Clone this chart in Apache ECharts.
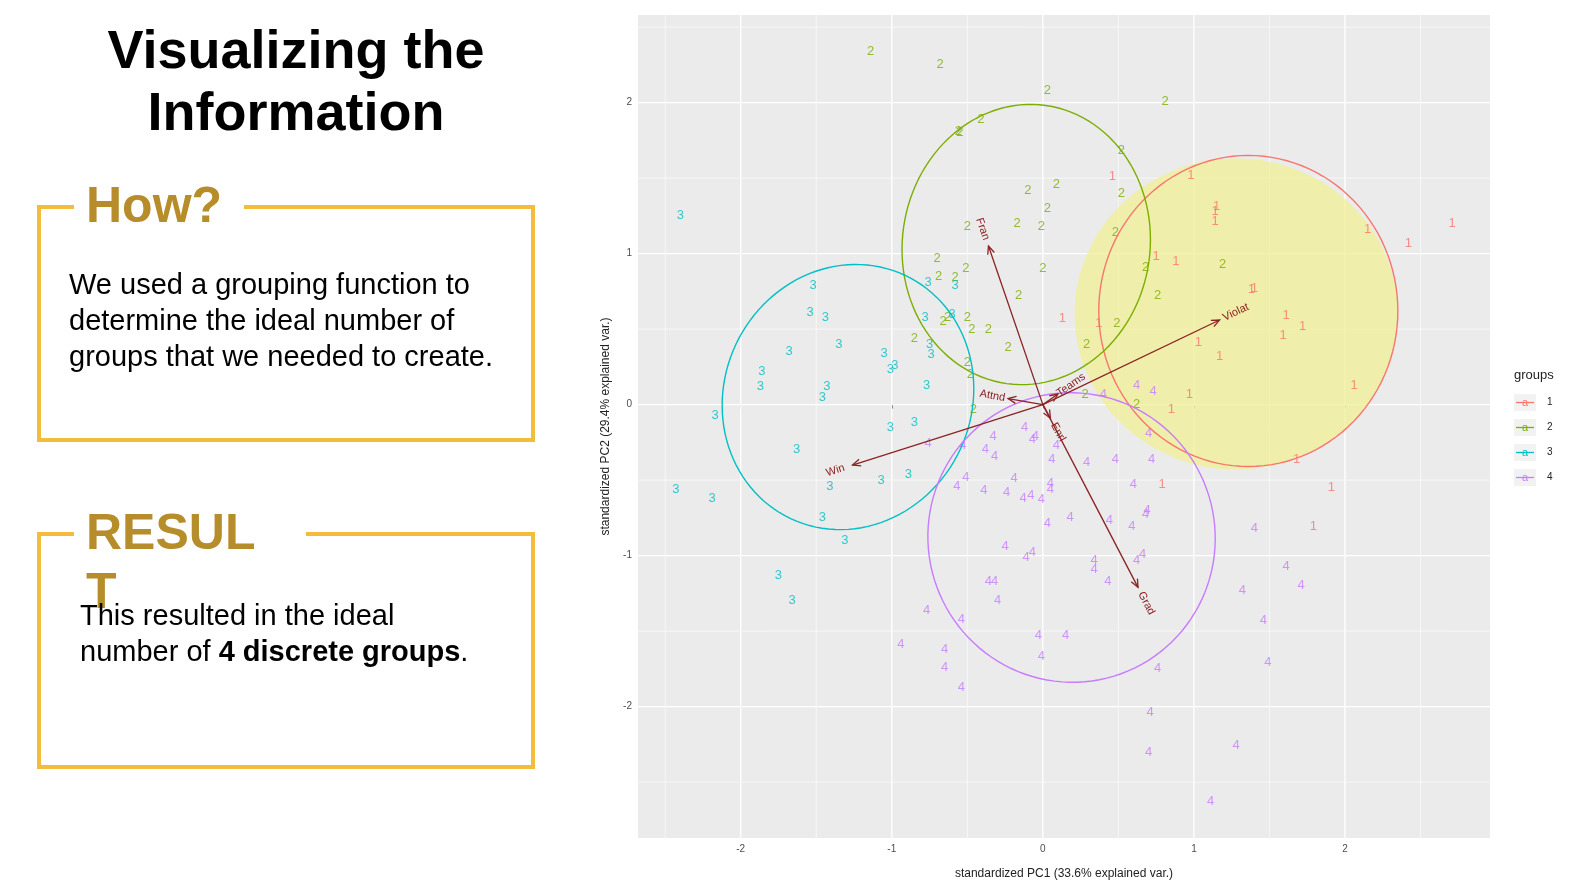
<!DOCTYPE html>
<html><head><meta charset="utf-8">
<script src="https://cdn.jsdelivr.net/npm/echarts@6/dist/echarts.min.js"></script>
<style>html,body{margin:0;padding:0;background:#fff}#c{width:1584px;height:882px}</style>
</head><body><div id="c"></div>
<script>
const groupNames = ['1','2','3','4'];
const groupColors = ['#F8766D','#7CAE00','#00BFC4','#C77CFF'];
const g1 = [[0.46,1.51],[0.98,1.52],[1.15,1.31],[1.14,1.28],[1.14,1.21],[2.15,1.16],[2.71,1.20],[2.42,1.07],[0.75,0.98],[0.88,0.95],[1.38,0.76],[1.40,0.77],[0.13,0.57],[0.37,0.54],[1.61,0.59],[1.72,0.52],[1.59,0.46],[1.03,0.41],[1.17,0.32],[2.06,0.13],[0.97,0.07],[0.85,-0.03],[1.68,-0.36],[0.79,-0.53],[1.91,-0.55],[1.79,-0.81]];
const g2 = [[-1.14,2.34],[-0.68,2.25],[0.03,2.08],[0.81,2.01],[-0.56,1.81],[-0.55,1.80],[-0.41,1.89],[0.52,1.68],[-0.10,1.42],[0.09,1.46],[0.52,1.40],[0.03,1.30],[-0.50,1.18],[-0.17,1.20],[-0.01,1.18],[0.48,1.14],[-0.70,0.97],[-0.51,0.90],[-0.58,0.84],[-0.69,0.85],[0.00,0.90],[0.68,0.91],[1.19,0.93],[0.76,0.72],[-0.16,0.72],[-0.66,0.55],[-0.63,0.58],[-0.50,0.58],[-0.47,0.50],[-0.36,0.50],[-0.85,0.44],[0.49,0.54],[0.29,0.40],[-0.23,0.38],[-0.50,0.28],[-0.48,0.20],[0.28,0.07],[0.62,0.00],[-0.46,-0.03]];
const g3 = [[-2.40,1.25],[-1.52,0.79],[-1.54,0.61],[-1.44,0.58],[-1.35,0.40],[-1.68,0.35],[-1.86,0.22],[-1.87,0.12],[-1.43,0.12],[-1.46,0.05],[-1.05,0.34],[-0.98,0.26],[-1.01,0.23],[-0.76,0.81],[-0.58,0.79],[-0.60,0.60],[-0.78,0.58],[-0.75,0.40],[-0.74,0.33],[-0.77,0.13],[-2.17,-0.07],[-1.01,-0.15],[-0.85,-0.12],[-1.63,-0.30],[-2.43,-0.56],[-2.19,-0.62],[-1.41,-0.54],[-1.07,-0.50],[-0.89,-0.46],[-1.46,-0.75],[-1.31,-0.90],[-1.75,-1.13],[-1.66,-1.30]];
const g4 = [[0.40,0.07],[0.62,0.13],[0.73,0.09],[0.70,-0.19],[-0.33,-0.21],[-0.12,-0.15],[-0.05,-0.21],[-0.07,-0.23],[-0.53,-0.27],[-0.38,-0.30],[-0.32,-0.34],[-0.76,-0.26],[0.09,-0.27],[0.06,-0.36],[0.29,-0.38],[0.48,-0.36],[0.72,-0.36],[-0.51,-0.48],[-0.57,-0.54],[-0.39,-0.57],[-0.24,-0.58],[-0.19,-0.49],[-0.08,-0.60],[0.05,-0.52],[0.05,-0.56],[-0.13,-0.62],[-0.01,-0.63],[0.60,-0.53],[0.69,-0.70],[0.68,-0.73],[0.59,-0.81],[0.44,-0.77],[0.18,-0.75],[0.03,-0.79],[-0.25,-0.94],[-0.07,-0.98],[-0.11,-1.01],[0.66,-0.99],[0.62,-1.03],[0.34,-1.03],[0.34,-1.09],[0.43,-1.17],[-0.36,-1.17],[-0.32,-1.17],[-0.30,-1.30],[-0.77,-1.36],[-0.54,-1.42],[-0.03,-1.53],[0.15,-1.53],[-0.94,-1.59],[-0.65,-1.62],[-0.65,-1.74],[-0.54,-1.87],[-0.01,-1.67],[0.76,-1.75],[1.40,-0.82],[1.61,-1.07],[1.71,-1.20],[1.32,-1.23],[1.46,-1.43],[1.49,-1.71],[0.71,-2.04],[0.70,-2.30],[1.28,-2.26],[1.11,-2.63]];
const groupData = [g1,g2,g3,g4];
// ellipses: [cx, cy, rx, ry, rotationDeg, groupIndex]
const ellipses = [[1.36,0.62,0.99,1.03,0,0],[-0.11,1.06,0.82,0.93,-8,1],[-1.29,0.05,0.82,0.89,-25,2],[0.19,-0.88,0.95,0.96,20,3]];
const fillEllipse = [1.28,0.60,1.07,1.03];
// variable arrows: [x, y, name]
const arrows = [[-0.36,1.05,'Fran'],[1.17,0.56,'Violat'],[0.10,0.07,'Teams'],[-0.23,0.04,'Attnd'],[0.05,-0.09,'Enrl'],[-1.26,-0.40,'Win'],[0.63,-1.21,'Grad']];
const xTicks = [-2,-1,0,1,2];
const yTicks = [-2,-1,0,1,2];
const xMinor = [-2.5,-1.5,-0.5,0.5,1.5,2.5];
const yMinor = [-2.5,-1.5,-0.5,0.5,1.5,2.5];
const XR=[-2.68,2.96], YR=[-2.87,2.58];

const chart = echarts.init(document.getElementById('c'));
const series = [];
series.push({type:'custom', z:1, silent:true, data:[0], renderItem(p,api){
  const ch=[];
  const ln=(a,b,w)=>ch.push({type:'line',shape:{x1:a[0],y1:a[1],x2:b[0],y2:b[1]},style:{stroke:'#fff',lineWidth:w}});
  xMinor.forEach(v=>ln(api.coord([v,YR[0]]),api.coord([v,YR[1]]),0.6));
  yMinor.forEach(v=>ln(api.coord([XR[0],v]),api.coord([XR[1],v]),0.6));
  xTicks.forEach(v=>ln(api.coord([v,YR[0]]),api.coord([v,YR[1]]),1.3));
  yTicks.forEach(v=>ln(api.coord([XR[0],v]),api.coord([XR[1],v]),1.3));
  return {type:'group',children:ch};
}});
function ellPts(api,cx,cy,rx,ry,rot){
  const pts=[],r=rot*Math.PI/180;
  for(let i=0;i<=120;i++){const t=i/120*2*Math.PI;const x=rx*Math.cos(t),y=ry*Math.sin(t);
    pts.push(api.coord([cx+x*Math.cos(r)-y*Math.sin(r), cy+x*Math.sin(r)+y*Math.cos(r)]));}
  return pts;
}
series.push({type:'custom', z:2, silent:true, data:[0], renderItem(p,api){
  return {type:'polygon',shape:{points:ellPts(api,fillEllipse[0],fillEllipse[1],fillEllipse[2],fillEllipse[3],0)},style:{fill:'rgba(240,240,150,0.75)',stroke:null}};
}});
groupData.forEach((d,i)=>{
  series.push({type:'scatter',name:groupNames[i],z:3,symbolSize:1,itemStyle:{color:'rgba(0,0,0,0)'},data:d,
    label:{show:true,position:'inside',formatter:groupNames[i],color:groupColors[i],fontSize:13,fontFamily:'Liberation Sans'}});
});
series.push({type:'custom', z:4, silent:true, data:ellipses, renderItem(p,api){
  const e=ellipses[p.dataIndex];
  return {type:'polyline',shape:{points:ellPts(api,e[0],e[1],e[2],e[3],e[4])},style:{fill:null,stroke:groupColors[e[5]],lineWidth:1.4}};
}});
series.push({type:'custom', z:5, silent:true, data:arrows.map(a=>[a[0],a[1]]), renderItem(p,api){
  const a=arrows[p.dataIndex];
  const s=api.coord([0,0]), e=api.coord([a[0],a[1]]);
  const dx=e[0]-s[0], dy=e[1]-s[1], L=Math.hypot(dx,dy), ux=dx/L, uy=dy/L;
  const h=8, w=3.5;
  const b=[e[0]-ux*h,e[1]-uy*h];
  let ang=Math.atan2(-dy,dx);
  if(ang>Math.PI/2) ang-=Math.PI; else if(ang<-Math.PI/2) ang+=Math.PI;
  const off=L<40?16:18;
  return {type:'group',children:[
    {type:'line',shape:{x1:s[0],y1:s[1],x2:e[0],y2:e[1]},style:{stroke:'#8B2323',lineWidth:1.3}},
    {type:'polyline',shape:{points:[[b[0]-uy*w,b[1]+ux*w],e,[b[0]+uy*w,b[1]-ux*w]]},style:{stroke:'#8B2323',lineWidth:1.3,fill:null}},
    {type:'text',x:e[0]+ux*off,y:e[1]+uy*off,rotation:ang,style:{text:a[2],fill:'#8B1A1A',fontSize:11,fontFamily:'Liberation Sans',align:'center',verticalAlign:'middle'}}
  ]};
}});

const gold='#F3BC3C', goldText='#B78D2C';
const legendItems = groupNames.map((n,i)=>({type:'group',children:[
  {type:'rect',shape:{x:1514,y:394+i*25,width:22,height:17},style:{fill:'#F2F2F2'}},
  {type:'line',shape:{x1:1516,y1:402.5+i*25,x2:1534,y2:402.5+i*25},style:{stroke:groupColors[i],lineWidth:1.3}},
  {type:'text',x:1525,y:403+i*25,style:{text:'a',fill:groupColors[i],fontSize:11,align:'center',verticalAlign:'middle',fontFamily:'Liberation Sans'}},
  {type:'text',x:1547,y:402+i*25,style:{text:n,fill:'#222',fontSize:10,verticalAlign:'middle',fontFamily:'Liberation Sans'}}
]}));

chart.setOption({
  animation:false,
  grid:{left:638,right:94,top:15,bottom:44,show:true,backgroundColor:'#EBEBEB',borderWidth:0,outerBoundsMode:'none',containLabel:false},
  xAxis:{type:'value',min:XR[0],max:XR[1],splitLine:{show:false},axisLine:{show:false},
    axisTick:{show:true,customValues:xTicks,length:4,lineStyle:{color:'#333'}},
    axisLabel:{customValues:xTicks,color:'#4D4D4D',fontSize:10,margin:6,fontFamily:'Liberation Sans'},
    name:'standardized PC1 (33.6% explained var.)',nameLocation:'middle',nameGap:30,nameTextStyle:{fontSize:12,color:'#222',fontFamily:'Liberation Sans'}},
  yAxis:{type:'value',min:YR[0],max:YR[1],splitLine:{show:false},axisLine:{show:false},
    axisTick:{show:true,customValues:yTicks,length:4,lineStyle:{color:'#333'}},
    axisLabel:{customValues:yTicks,color:'#4D4D4D',fontSize:10,margin:6,fontFamily:'Liberation Sans'},
    name:'standardized PC2 (29.4% explained var.)',nameLocation:'middle',nameGap:26,nameTextStyle:{fontSize:12,color:'#222',fontFamily:'Liberation Sans'}},
  series,
  graphic:[
    {type:'text',x:296,y:84,style:{text:'Visualizing the\nInformation',font:'bold 54px "Liberation Sans"',fill:'#000',align:'center',verticalAlign:'middle',lineHeight:62}},
    {type:'rect',shape:{x:39,y:207,width:494,height:233},style:{fill:null,stroke:gold,lineWidth:4}},
    {type:'rect',shape:{x:74,y:195,width:170,height:24},style:{fill:'#fff'}},
    {type:'text',x:86,y:208,style:{text:'How?',font:'bold 50px "Liberation Sans"',fill:goldText,verticalAlign:'middle'}},
    {type:'text',x:69,y:322,style:{text:'We used a grouping function to\ndetermine the ideal number of\ngroups that we needed to create.',font:'29px "Liberation Sans"',fill:'#000',verticalAlign:'middle',lineHeight:36}},
    {type:'rect',shape:{x:39,y:534,width:494,height:233},style:{fill:null,stroke:gold,lineWidth:4}},
    {type:'rect',shape:{x:74,y:522,width:232,height:24},style:{fill:'#fff'}},
    {type:'text',x:86,y:535,style:{text:'RESUL',font:'bold 50px "Liberation Sans"',fill:goldText,verticalAlign:'middle'}},
    {type:'text',x:86,y:594,style:{text:'T',font:'bold 50px "Liberation Sans"',fill:goldText,verticalAlign:'middle'}},
    {type:'text',x:80,y:635,style:{rich:{n:{font:'29px "Liberation Sans"',fill:'#000',lineHeight:36},b:{font:'bold 29px "Liberation Sans"',fill:'#000',lineHeight:36}},
      text:'{n|This resulted in the ideal}\n{n|number of }{b|4 discrete groups}{n|.}',verticalAlign:'middle'}},
    {type:'text',x:1514,y:375,style:{text:'groups',fill:'#222',fontSize:13,verticalAlign:'middle',fontFamily:'Liberation Sans'}},
    ...legendItems
  ]
});
</script></body></html>
